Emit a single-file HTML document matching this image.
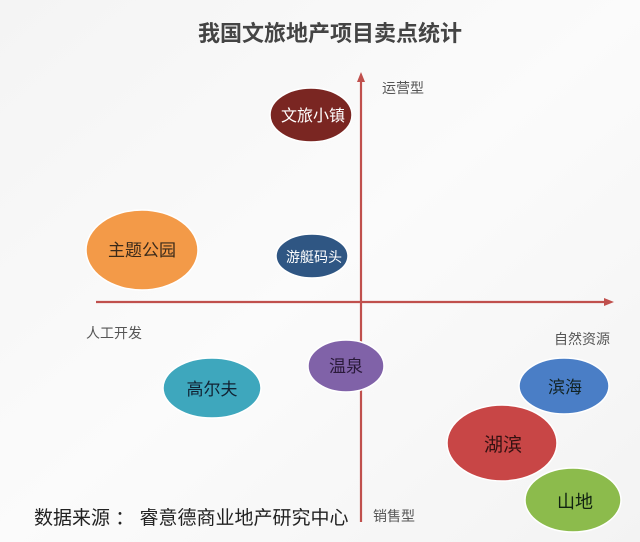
<!DOCTYPE html>
<html><head><meta charset="utf-8"><style>
html,body{margin:0;padding:0;background:#fafafa;}
svg{display:block;font-family:"Liberation Sans","Noto Sans CJK SC",sans-serif;}
</style></head><body>
<svg width="640" height="542" viewBox="0 0 640 542">
<defs>
<linearGradient id="bg" x1="0" y1="0" x2="1" y2="1"><stop offset="0" stop-color="#f4f4f4"/><stop offset="0.5" stop-color="#fbfbfb"/><stop offset="1" stop-color="#f3f3f3"/></linearGradient>
</defs>
<rect width="640" height="542" fill="url(#bg)"/>
<text x="330" y="41" font-size="22" font-weight="bold" fill="#444" text-anchor="middle">我国文旅地产项目卖点统计</text>
<g stroke="#c0504d" stroke-width="2.2" fill="#c0504d">
<line x1="96" y1="302" x2="606" y2="302"/>
<polygon points="614,302 604,298 604,306" stroke="none"/>
<line x1="361" y1="80" x2="361" y2="522"/>
<polygon points="361,72 357,82 365,82" stroke="none"/>
</g>
<g font-size="14" fill="#555">
<text x="382" y="93">运营型</text>
<text x="86" y="338">人工开发</text>
<text x="554" y="344">自然资源</text>
<text x="373" y="521">销售型</text>
</g>
<text x="34" y="524" font-size="19" fill="#222">数据来源 ： 睿意德商业地产研究中心</text>
<g text-anchor="middle" font-size="16" stroke="#fff" stroke-width="1.5">
<ellipse cx="311" cy="115" rx="41" ry="27" fill="#7a2622"/>
<ellipse cx="142" cy="250" rx="56" ry="40" fill="#f39a48"/>
<ellipse cx="312" cy="256" rx="36" ry="22" fill="#2f5683"/>
<ellipse cx="346" cy="366" rx="38" ry="26" fill="#8062a8"/>
<ellipse cx="212" cy="388" rx="49" ry="30" fill="#3ea7bd"/>
<ellipse cx="564" cy="386" rx="45" ry="28" fill="#4a7ec6"/>
<ellipse cx="502" cy="443" rx="55" ry="38" fill="#c84646"/>
<ellipse cx="573" cy="500" rx="48" ry="32" fill="#8cbb4c"/>
</g>
<g text-anchor="middle" font-size="16">
<text x="313" y="121" fill="#fff">文旅小镇</text>
<text x="142" y="256" fill="#3a2a1a" font-size="17">主题公园</text>
<text x="314" y="262" fill="#fff" font-size="14">游艇码头</text>
<text x="346" y="372" fill="#2a1a3a" font-size="17">温泉</text>
<text x="212" y="395" fill="#123" font-size="17">高尔夫</text>
<text x="565" y="393" fill="#122" font-size="17">滨海</text>
<text x="503" y="451" fill="#311" font-size="19">湖滨</text>
<text x="575" y="508" fill="#121" font-size="18">山地</text>
</g>
</svg>
</body></html>
